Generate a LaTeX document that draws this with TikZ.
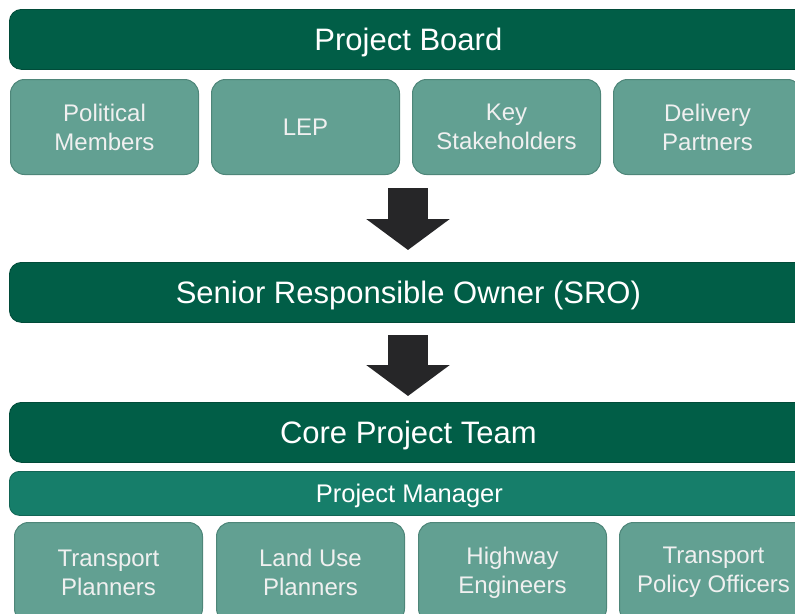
\documentclass[tikz,border=0pt]{standalone}
\usepackage{fontspec}
\setmainfont{Liberation Sans}
\usetikzlibrary{positioning,arrows.meta,calc}

\definecolor{darkbar}{RGB}{1,94,71}
\definecolor{midbar}{RGB}{22,126,106}
\definecolor{subbox}{RGB}{98,160,146}
\definecolor{subedge}{RGB}{78,134,121}
\definecolor{arrowgrey}{RGB}{38,38,40}

\tikzset{
  headbar/.style={anchor=north west, fill=darkbar, draw=darkbar!80!black, line width=0.8pt,
    rounded corners=12pt, minimum width=798pt, minimum height=60pt, text=white,
    text depth=0pt, font=\fontsize{31}{33}\selectfont},
  managerbar/.style={anchor=north west, fill=midbar, draw=midbar!80!black, line width=0.8pt,
    rounded corners=10pt, minimum width=800pt, minimum height=44pt, text=white,
    text depth=0pt, font=\fontsize{25.5}{28}\selectfont},
  member/.style={anchor=north west, fill=subbox, draw=subedge, line width=1pt,
    rounded corners=14pt, minimum width=188pt, minimum height=95pt, align=center,
    text=white!94!black, font=\fontsize{24}{29}\selectfont},
  bigarrow/.style={arrowgrey, line width=40pt,
    -{Triangle[width=82pt,length=31pt]}},
}

\begin{document}
\begin{tikzpicture}[x=1pt, y=-1pt]

\useasboundingbox (0,0) rectangle (795,613);
\clip (0,0) rectangle (795,613);

% board and its members
\node [headbar] (board) at (9,9) {Project Board};
\node [member] (political) at (10,79) {Political\\Members};
\node [member] (lep) at (211,79) {LEP};
\node [member] (stake) at (412,79) {Key\\Stakeholders};
\node [member] (delivery) at (613,79) {Delivery\\Partners};

% senior responsible owner
\node [headbar] (sro) at (9,262) {Senior Responsible Owner (SRO)};

% core team
\node [headbar] (core) at (9,402) {Core Project Team};
\node [managerbar] (manager) at (9,471) {Project Manager};
\node [member, minimum height=100pt] (tplanners) at (14,522) {Transport\\Planners};
\node [member, minimum height=100pt] (landuse) at (216,522) {Land Use\\Planners};
\node [member, minimum height=100pt] (highway) at (418,522) {Highway\\Engineers};
\node [member, minimum height=100pt] (policy) at (619,522) {Transport\\Policy Officers};

% block arrows
\coordinate (top1) at (408,188);
\coordinate (tip1) at (408,250);
\coordinate (top2) at (408,335);
\coordinate (tip2) at (408,396);
\draw [bigarrow] (top1) -- (tip1);
\draw [bigarrow] (top2) -- (tip2);

\end{tikzpicture}
\end{document}
